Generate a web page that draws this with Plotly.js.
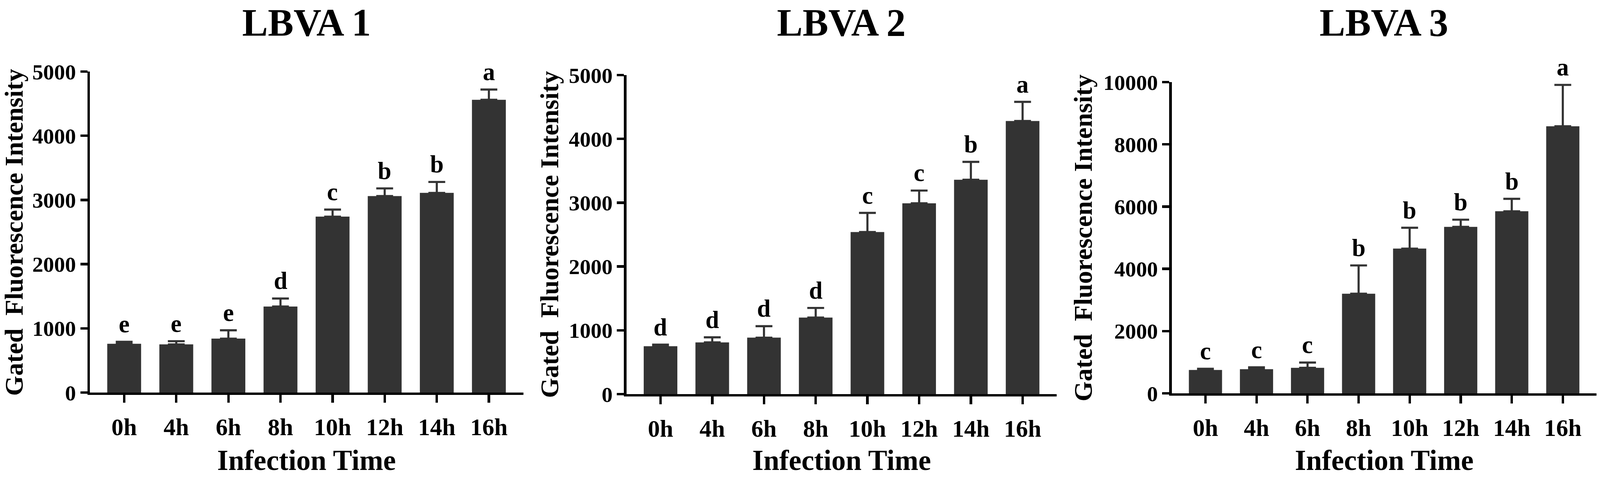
<!DOCTYPE html>
<html>
<head>
<meta charset="utf-8">
<script src="https://cdn.plot.ly/plotly-3.0.1.min.js"></script>
<style>
  html, body { margin: 0; padding: 0; background: #fff; overflow: hidden; }
  #lbva { position: absolute; left: 0; top: 0; }
</style>
</head>
<body>
<div id="lbva"></div>
<script>
// values (mean, upper error, significance letter)
var times = ['0h', '4h', '6h', '8h', '10h', '12h', '14h', '16h'];

var lbva1Mean = [760, 750, 840, 1340, 2740, 3060, 3110, 4560];
var lbva1Err  = [30, 50, 130, 125, 110, 120, 170, 160];
var lbva1Sig  = ['e', 'e', 'e', 'd', 'c', 'b', 'b', 'a'];

var lbva2Mean = [750, 810, 885, 1200, 2540, 2990, 3360, 4280];
var lbva2Err  = [25, 80, 180, 150, 300, 200, 280, 300];
var lbva2Sig  = ['d', 'd', 'd', 'd', 'c', 'c', 'b', 'a'];

var lbva3Mean = [750, 775, 820, 3200, 4650, 5350, 5850, 8580];
var lbva3Err  = [40, 60, 170, 910, 670, 230, 400, 1330];
var lbva3Sig  = ['c', 'c', 'c', 'b', 'b', 'b', 'b', 'a'];

var panelTitles = ['LBVA 1', 'LBVA 2', 'LBVA 3'];
var yMax = [5000, 5000, 10000];
var yStep = [1000, 1000, 2000];

var FONT = 'Liberation Serif, Times New Roman, serif';
var BAR = '#333333';

// the figure is laid out on a 4562 x 1220 grid and stretched to the window
var W0 = 4562, H0 = 1220;
var W = window.innerWidth || W0, H = window.innerHeight || H0;
var kx = W / W0, ky = H / H0, kf = Math.sqrt(kx * ky);
function px(v) { return v * kx; }   // horizontal sizes
function py(v) { return v * ky; }   // vertical offsets
function pf(v) { return v * kf; }   // font sizes

var el = document.getElementById('lbva');
el.style.width = W + 'px';
el.style.height = H + 'px';

// plot areas on the base grid (left, right, top, bottom)
var boxes = [
  [256, 1492, 183, 1004],
  [1786, 3013, 192, 1008],
  [3341, 4552, 210, 1006]
];
var yTitleX = [40, 1566, 3087];

var means = [lbva1Mean, lbva2Mean, lbva3Mean];
var errs = [lbva1Err, lbva2Err, lbva3Err];
var sigs = [lbva1Sig, lbva2Sig, lbva3Sig];

var data = [];
var annotations = [];
var layout = {
  width: W, height: H,
  margin: {l: 0, r: 0, t: 0, b: 0, pad: 0},
  paper_bgcolor: '#fff', plot_bgcolor: '#fff',
  showlegend: false,
  bargap: 0.35,
  font: {family: FONT, color: '#000'}
};

for (var p = 0; p < 3; p++) {
  var sfx = p === 0 ? '' : String(p + 1);
  var b = boxes[p];
  var xd = [b[0] / W0, b[1] / W0];
  var yd = [1 - b[3] / H0, 1 - b[2] / H0];

  data.push({
    type: 'bar',
    x: times,
    y: means[p],
    xaxis: 'x' + sfx,
    yaxis: 'y' + sfx,
    marker: {color: BAR, line: {width: 0}},
    error_y: {
      type: 'data', symmetric: false,
      array: errs[p],
      arrayminus: errs[p].map(function () { return 0; }),
      color: BAR, thickness: px(6), width: px(24)
    },
    hoverinfo: 'x+y'
  });

  layout['xaxis' + sfx] = {
    domain: xd, anchor: 'y' + sfx,
    type: 'category', range: [-0.66, 7.66],
    showline: true, linecolor: '#000', linewidth: px(7),
    ticks: 'outside', ticklen: py(20), tickwidth: px(7), tickcolor: '#000',
    ticklabelstandoff: py(9),
    tickfont: {family: FONT, size: pf(65), color: '#000', weight: 'bold'},
    showgrid: false, zeroline: false, fixedrange: true
  };
  layout['yaxis' + sfx] = {
    domain: yd, anchor: 'x' + sfx,
    range: [0, yMax[p]], dtick: yStep[p], tick0: 0, tickformat: 'd',
    showline: true, linecolor: '#000', linewidth: px(7),
    ticks: 'outside', ticklen: px(20), tickwidth: px(7), tickcolor: '#000',
    ticklabelstandoff: px(9),
    tickfont: {family: FONT, size: pf(59), color: '#000', weight: 'bold'},
    showgrid: false, zeroline: false, fixedrange: true
  };

  // significance letters above each error bar
  for (var i = 0; i < times.length; i++) {
    annotations.push({
      xref: 'x' + sfx, yref: 'y' + sfx,
      x: times[i], y: means[p][i] + errs[p][i],
      text: sigs[p][i], showarrow: false,
      xanchor: 'center', yanchor: 'bottom', yshift: py(8),
      font: {family: FONT, size: pf(66), color: '#000', weight: 'bold'}
    });
  }

  var cx = (xd[0] + xd[1]) / 2;
  // panel title
  annotations.push({
    xref: 'paper', yref: 'paper', x: cx, y: 1,
    text: panelTitles[p], showarrow: false,
    xanchor: 'center', yanchor: 'top', yshift: -py(1),
    font: {family: FONT, size: pf(104), color: '#000', weight: 'bold'}
  });
  // x axis title
  annotations.push({
    xref: 'paper', yref: 'paper', x: cx, y: 0,
    text: 'Infection Time', showarrow: false,
    xanchor: 'center', yanchor: 'bottom',
    font: {family: FONT, size: pf(77), color: '#000', weight: 'bold'}
  });
  // y axis title, sized on the vertical scale so it spans the plot height
  annotations.push({
    xref: 'paper', yref: 'paper', x: yTitleX[p] / W0, y: (yd[0] + yd[1]) / 2,
    text: 'Gated  Fluorescence Intensity', showarrow: false, textangle: -90,
    xanchor: 'center', yanchor: 'middle',
    font: {family: FONT, size: py(66), color: '#000', weight: 'bold'}
  });
}

layout.annotations = annotations;

Plotly.newPlot('lbva', data, layout, {staticPlot: true, displayModeBar: false});
</script>
</body>
</html>
